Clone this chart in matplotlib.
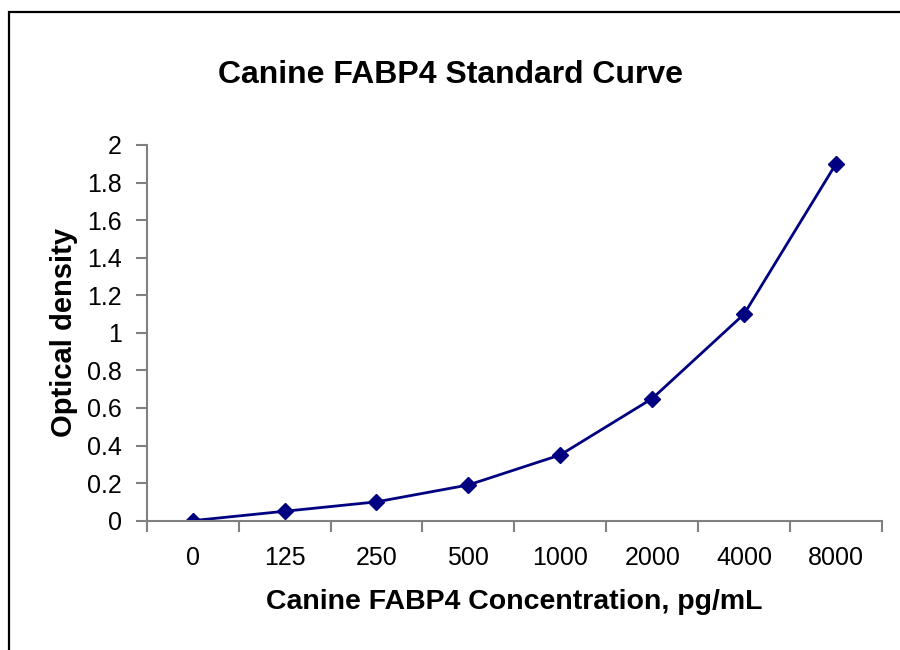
import matplotlib.pyplot as plt
import matplotlib.patches as patches

plt.rcParams['font.family'] = ['Liberation Sans', 'DejaVu Sans']

# standard curve data
conc_labels = ['0', '125', '250', '500', '1000', '2000', '4000', '8000']
od_values = [0.0, 0.05, 0.10, 0.19, 0.35, 0.65, 1.10, 1.90]
y_ticks = [0, 0.2, 0.4, 0.6, 0.8, 1, 1.2, 1.4, 1.6, 1.8, 2]
y_tick_labels = ['0', '0.2', '0.4', '0.6', '0.8', '1', '1.2', '1.4', '1.6', '1.8', '2']

fig = plt.figure(figsize=(9, 6.5), dpi=100)
ax = fig.add_axes([0.163, 0.199, 0.817, 0.578])

x = list(range(len(conc_labels)))
ax.plot(x, od_values, color='#000080', linewidth=2, marker='D', markersize=8,
        markerfacecolor='#000080', markeredgecolor='#000080')

ax.set_xlim(-0.5, len(conc_labels) - 0.5)
ax.set_ylim(0, 2)

# category ticks sit between the labels
ax.set_xticks([i - 0.5 for i in range(len(conc_labels) + 1)], minor=False)
ax.set_xticklabels([])
ax.set_xticks(x, minor=True)
ax.set_xticklabels(conc_labels, minor=True, fontsize=18)
ax.tick_params(axis='x', which='minor', length=0, pad=18)
ax.tick_params(axis='x', which='major', length=8, width=1.5, color='#808080', direction='out')

ax.set_yticks(y_ticks)
ax.set_yticklabels(y_tick_labels, fontsize=18)
ax.tick_params(axis='y', length=8, width=1.5, color='#808080', direction='out', pad=10)

for s in ['top', 'right']:
    ax.spines[s].set_visible(False)
for s in ['left', 'bottom']:
    ax.spines[s].set_color('#808080')
    ax.spines[s].set_linewidth(1.5)

ax.set_xlabel('Canine FABP4 Concentration, pg/mL', fontsize=20.5, fontweight='bold', labelpad=14)
ax.set_ylabel('Optical density', fontsize=21, fontweight='bold', labelpad=6)
fig.text(0.5, 0.885, 'Canine FABP4 Standard Curve', fontsize=23, fontweight='bold',
         ha='center', va='center')

# outer chart border (cut off on right and bottom)
rect = patches.Rectangle((9 / 900, -0.05), 1.0, (650 - 12) / 650 + 0.05,
                         transform=fig.transFigure, fill=False, edgecolor='black',
                         linewidth=1.6, clip_on=False)
fig.patches.append(rect)

fig.savefig('out.png', dpi=100)
